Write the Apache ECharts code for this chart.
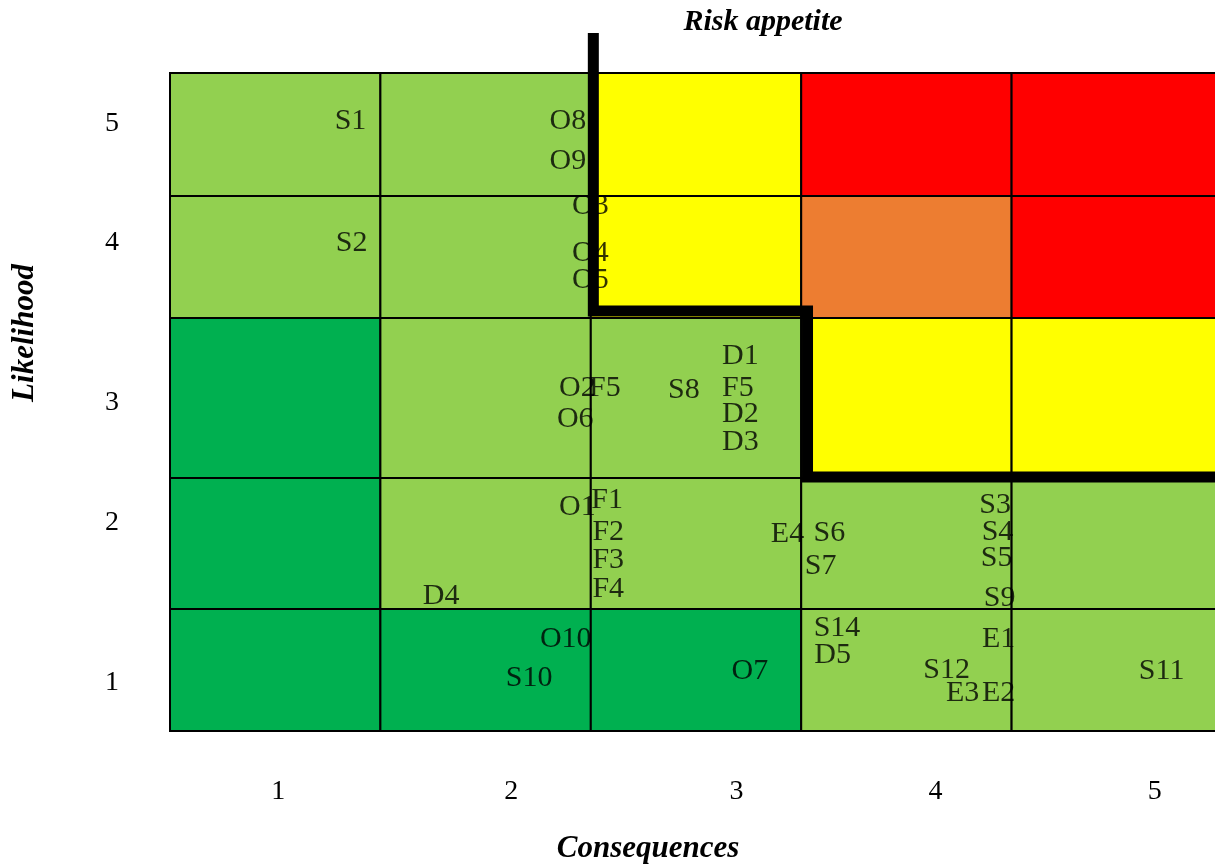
<!DOCTYPE html>
<html><head><meta charset="utf-8">
<script src="https://cdn.jsdelivr.net/npm/echarts@6/dist/echarts.min.js"></script>
<style>html,body{margin:0;padding:0;background:#fff}#c{width:1215px;height:867px}</style>
</head><body><div id="c"></div>
<script>
// ---------- data ----------
const consequenceLabels = ['1', '2', '3', '4', '5'];
const likelihoodLabels = ['1', '2', '3', '4', '5'];
// colour class of each cell: rows = likelihood 5..1, columns = consequence 1..5
const riskLikelihood = [5, 4, 3, 2, 1];
const riskRow5 = ['L', 'L', 'Y', 'R', 'R'];
const riskRow4 = ['L', 'L', 'Y', 'O', 'R'];
const riskRow3 = ['D', 'L', 'L', 'Y', 'Y'];
const riskRow2 = ['D', 'L', 'L', 'L', 'L'];
const riskRow1 = ['D', 'D', 'D', 'L', 'L'];
// risk identifiers and their positions (consequence units, likelihood units)
const riskNames = ['S1','S2','O8','O9','O3','O4','O5','O2','F5','O6','S8','D1','F5','D2','D3','O1','F1','F2','F3','F4','D4','E4','S6','S7','S3','S4','S5','S9','O10','S10','O7','S14','D5','E1','S12','E3','E2','S11'];
const riskConsequence = [0.858,0.863,1.891,1.891,1.998,1.998,1.998,1.936,2.067,1.926,2.442,2.711,2.699,2.711,2.711,1.936,2.078,2.083,2.083,2.083,1.289,2.935,3.134,3.092,3.922,3.933,3.929,3.943,1.881,1.707,2.756,3.170,3.149,3.938,3.691,3.767,3.938,4.713];
const riskLikelihoodPos = [4.61,3.61,4.61,4.28,3.92,3.53,3.31,2.56,2.56,2.37,2.55,2.76,2.56,2.40,2.225,1.78,1.83,1.59,1.37,1.15,1.10,1.57,1.58,1.33,1.79,1.59,1.39,1.08,0.75,0.43,0.49,0.84,0.62,0.75,0.50,0.31,0.31,0.49];
// risk appetite boundary
const appetiteConsequence = [2.012, 2.012, 3.030, 3.030, 5.0];
const appetiteLikelihood = [5.325, 3.057, 3.057, 2.006, 2.006];

// ---------- layout ----------
const rowHeights = [122, 131, 160, 122, 123]; // likelihood 1..5, relative heights
const rowEdges = [0];
rowHeights.forEach(h => rowEdges.push(rowEdges[rowEdges.length - 1] + h));
const yTotal = rowEdges[5];
function rowToAxis(v) {
  if (v >= 5) return yTotal + (v - 5) * rowHeights[4];
  if (v <= 0) return v * rowHeights[0];
  const k = Math.floor(v);
  return rowEdges[k] + (v - k) * rowHeights[k];
}
const xTickPos = [0.514, 1.622, 2.692, 3.638, 4.68];
const yTickPos = [0.393, 1.656, 2.469, 3.615, 4.59].map(rowToAxis);
const colours = { L: '#92D050', D: '#00B050', Y: '#FFFF00', O: '#ED7D31', R: '#FF0000' };
const serif = '"Liberation Serif", "DejaVu Serif", serif';

const rowsArr = [riskRow5, riskRow4, riskRow3, riskRow2, riskRow1];
const cells = [];
rowsArr.forEach((row, i) => row.forEach((k, j) => cells.push([j + 1, riskLikelihood[i], k])));

const chart = echarts.init(document.getElementById('c'), null, { renderer: 'canvas' });
chart.setOption({
  animation: false,
  backgroundColor: '#fff',
  grid: { left: 170, top: 73, width: 1052, height: 658, outerBoundsMode: 'none', containLabel: false },
  xAxis: {
    type: 'value', min: 0, max: 5,
    axisLine: { show: false }, axisTick: { show: false }, splitLine: { show: false },
    axisLabel: {
      customValues: xTickPos, margin: 47, color: '#000', fontFamily: serif, fontSize: 28,
      formatter: v => consequenceLabels[xTickPos.findIndex(p => Math.abs(p - v) < 1e-6)]
    }
  },
  yAxis: {
    type: 'value', min: 0, max: yTotal,
    axisLine: { show: false }, axisTick: { show: false }, splitLine: { show: false },
    axisLabel: {
      customValues: yTickPos, margin: 51, color: '#000', fontFamily: serif, fontSize: 28,
      formatter: v => likelihoodLabels[yTickPos.findIndex(p => Math.abs(p - v) < 1e-6)]
    }
  },
  graphic: [
    { type: 'text', x: 763, y: 22, z: 10, style: { text: 'Risk appetite', fontFamily: serif, fontSize: 30, fontWeight: 'bold', fontStyle: 'italic', fill: '#000', align: 'center', verticalAlign: 'middle' } },
    { type: 'text', x: 25, y: 333, rotation: Math.PI / 2, z: 10, style: { text: 'Likelihood', fontFamily: serif, fontSize: 31, fontWeight: 'bold', fontStyle: 'italic', fill: '#000', align: 'center', verticalAlign: 'middle' } },
    { type: 'text', x: 648, y: 849, z: 10, style: { text: 'Consequences', fontFamily: serif, fontSize: 31, fontWeight: 'bold', fontStyle: 'italic', fill: '#000', align: 'center', verticalAlign: 'middle' } }
  ],
  series: [
    {
      type: 'custom', silent: true, z: 1,
      data: cells,
      renderItem: (params, api) => {
        const c = api.value(0), r = api.value(1);
        const p1 = api.coord([c - 1, rowToAxis(r)]);
        const p2 = api.coord([c, rowToAxis(r - 1)]);
        return {
          type: 'rect',
          shape: { x: p1[0], y: p1[1], width: p2[0] - p1[0], height: p2[1] - p1[1] },
          style: { fill: colours[cells[params.dataIndex][2]], stroke: '#000', lineWidth: 2 }
        };
      }
    },
    {
      type: 'scatter', silent: true, z: 3,
      symbolSize: 1, itemStyle: { color: 'rgba(0,0,0,0)' },
      data: riskNames.map((n, i) => ({ name: n, value: [riskConsequence[i], rowToAxis(riskLikelihoodPos[i])] })),
      label: {
        show: true, position: 'inside', offset: [0, 2], formatter: p => p.name,
        color: '#000', fontFamily: serif, fontSize: 30, textBorderWidth: 0
      },
      labelLayout: { hideOverlap: false }
    },
    {
      type: 'line', silent: true, z: 5, clip: false, symbol: 'none',
      data: appetiteConsequence.map((x, i) => [x, rowToAxis(appetiteLikelihood[i])]),
      lineStyle: { color: '#000', width: 11, join: 'miter', cap: 'butt' }
    }
  ]
});
</script></body></html>
